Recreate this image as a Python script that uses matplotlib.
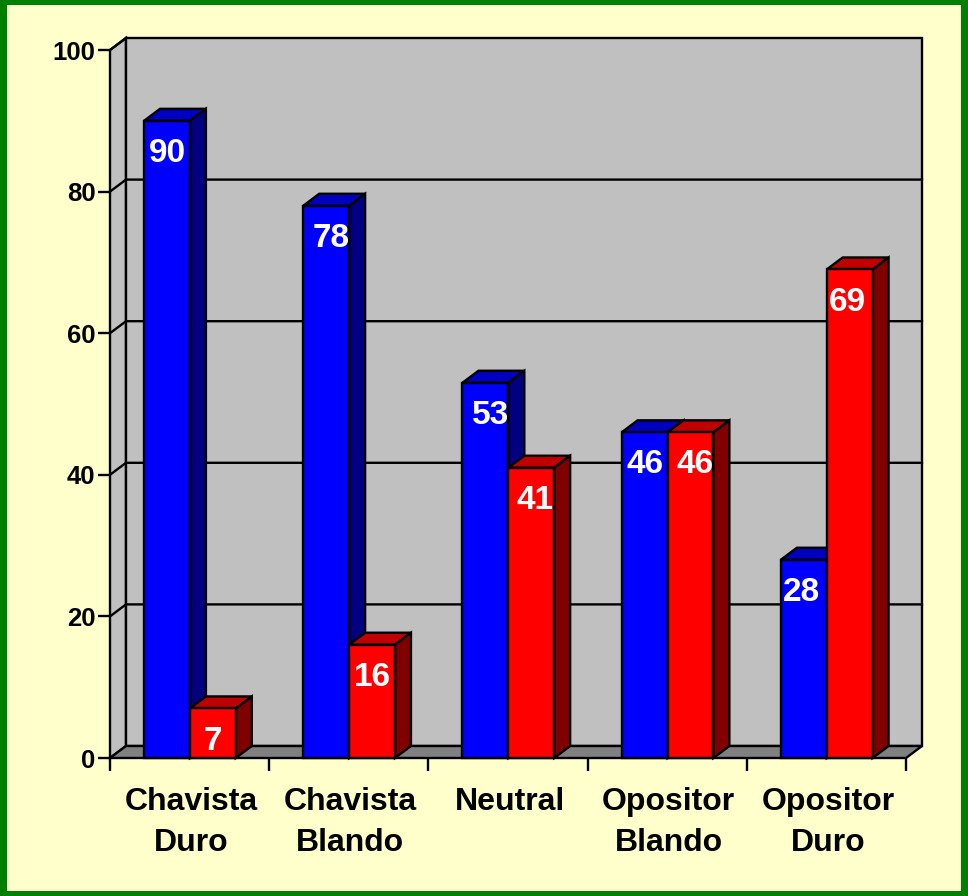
#!/usr/bin/env python3

import numpy as np
import matplotlib
matplotlib.use('Agg')
import matplotlib.pyplot as plt
from matplotlib.patches import Rectangle

categories = ['Chavista\nDuro', 'Chavista\nBlando', 'Neutral',
              'Opositor\nBlando', 'Opositor\nDuro']
blue_values = [90, 78, 53, 46, 28]
red_values = [7, 16, 41, 46, 69]
y_ticks = [0, 20, 40, 60, 80, 100]

# labels in the original sit a bit off centre, nudges in points
blue_nudge = [0.5, 3.5, 3.5, 0.5, -2]
red_nudge = [0, 0, 3, 3.5, -1.5]

W, H = 968, 896
LEFT, RIGHT, TOP, BOTTOM = 110, 906, 50, 758

plt.rcParams['font.family'] = ['Liberation Sans', 'DejaVu Sans']
plt.rcParams['font.weight'] = 'bold'

fig = plt.figure(figsize=(W / 100, H / 100), dpi=100, facecolor='#008000')
fig.add_artist(Rectangle((7 / W, 5 / H), (W - 14) / W, (H - 10) / H,
                         transform=fig.transFigure, facecolor='#FFFFCC',
                         edgecolor='none', zorder=-1))

ax = fig.add_axes([LEFT / W, 1 - BOTTOM / H, (RIGHT - LEFT) / W,
                   (BOTTOM - TOP) / H])
ax.set_zorder(2)
ax.set_xlim(0, 5)
ax.set_ylim(0, 100)
ax.patch.set_visible(False)
for spine in ax.spines.values():
    spine.set_visible(False)

# depth of the fake 3d, in data units
dx = 16 / ((RIGHT - LEFT) / 5)
dy = 12 / ((BOTTOM - TOP) / 100)
LW = 1.7
BAR_W = 0.288
BAR_OFF = 0.214


def poly(xs, ys, color, z):
    ax.fill(xs, ys, facecolor=color, edgecolor='black', linewidth=LW,
            zorder=z, clip_on=False, joinstyle='miter')


# walls and floor
poly([0, dx, dx, 0], [0, dy, 100 + dy, 100], '#C0C0C0', 1)
poly([dx, 5 + dx, 5 + dx, dx], [dy, dy, 100 + dy, 100 + dy], '#C0C0C0', 1)
poly([0, 5, 5 + dx, dx], [0, 0, dy, dy], '#808080', 1)

for t in y_ticks[1:-1]:
    ax.plot([0, dx, 5 + dx], [t, t + dy, t + dy], color='black', linewidth=LW,
            zorder=2, clip_on=False, solid_joinstyle='miter')
ax.plot([0, dx], [100, 100 + dy], color='black', linewidth=LW, zorder=2,
        clip_on=False)


def draw_bar(x0, val, front, top, side, z, nudge):
    x1 = x0 + BAR_W
    poly([x0, x1, x1 + dx, x0 + dx], [val, val, val + dy, val + dy], top, z)
    poly([x1, x1 + dx, x1 + dx, x1], [0, dy, val + dy, val], side, z)
    ax.bar(x0, val, BAR_W, align='edge', color=front, edgecolor='black',
           linewidth=LW, zorder=z, clip_on=False)
    ax.annotate(str(val), (x0 + BAR_W / 2, val), xytext=(nudge, -23.5),
                textcoords='offset points', ha='center', va='center',
                color='white', fontsize=24, fontweight='bold',
                zorder=z + 0.5)


for i in range(len(categories)):
    z = 3 + i
    draw_bar(i + BAR_OFF, blue_values[i], '#0000FF', '#0000C0', '#000080', z,
             blue_nudge[i])
    draw_bar(i + BAR_OFF + BAR_W, red_values[i], '#FF0000', '#C00000',
             '#800000', z + 0.6, red_nudge[i])

ax.set_yticks(y_ticks)
ax.tick_params(axis='y', length=9, width=LW, pad=1.5, labelsize=18.5)
ax.set_xticks(np.arange(6))
ax.set_xticklabels([])
ax.tick_params(axis='x', which='major', length=9, width=LW)
ax.set_xticks(np.arange(5) + 0.51, minor=True)
ax.set_xticklabels(categories, minor=True, fontsize=23, linespacing=1.47)
ax.tick_params(axis='x', which='minor', length=0, pad=21)

fig.savefig('out.png', dpi=100, facecolor=fig.get_facecolor())
